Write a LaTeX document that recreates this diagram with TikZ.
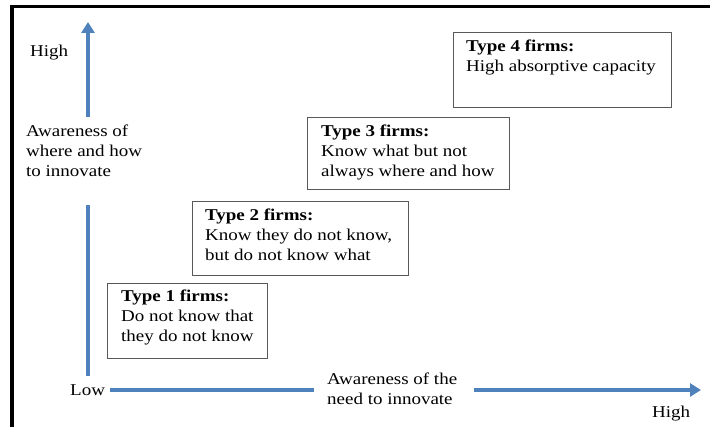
\documentclass[tikz,border=0pt]{standalone}
\usepackage{fontspec}
\setmainfont{Liberation Serif}[FakeStretch=1.15]
\usetikzlibrary{arrows.meta}
\definecolor{axisblue}{HTML}{4F81BD}
\tikzset{
  x=1pt, y=-1pt,
  frameline/.style={line width=3.5pt, black},
  axisline/.style={line width=4pt, axisblue},
  axisarrow/.style={axisline, -{Triangle[width=13pt,length=11pt]}},
  firmbox/.style={draw=black!65, line width=0.9pt, fill=white},
  % multi-line texts are placed by the baseline of their last line
  txt/.style={anchor=base west, inner sep=0pt, align=left,
    font=\fontsize{16.5}{20}\selectfont},
}
\begin{document}
\begin{tikzpicture}
\useasboundingbox (0,0) rectangle (710,427);
% frame on the top and left edges
\coordinate (fTR) at (710,6.5);
\coordinate (fTL) at (10,6.5);
\coordinate (fL0) at (12,5);
\coordinate (fLB) at (12,427);
\draw[frameline] (fTL) -- (fTR);
\draw[frameline] (fL0) -- (fLB);

% firm boxes
\node[firmbox, minimum width=160pt, minimum height=75pt, anchor=north west] (b1) at (107,283) {};
\node[firmbox, minimum width=216pt, minimum height=74pt, anchor=north west] (b2) at (192,201) {};
\node[firmbox, minimum width=202pt, minimum height=72pt, anchor=north west] (b3) at (307,117) {};
\node[firmbox, minimum width=218pt, minimum height=75pt, anchor=north west] (b4) at (453,32) {};

\node[txt] (t1) at (121,342) {\textbf{Type 1 firms:}\\Do not know that\\they do not know};
\node[txt] (t2) at (205,261) {\textbf{Type 2 firms:}\\Know they do not know,\\but do not know what};
\node[txt] (t3) at (321,177) {\textbf{Type 3 firms:}\\Know what but not\\always where and how};
\node[txt] (t4) at (466,72) {\textbf{Type 4 firms:}\\High absorptive capacity};

% vertical axis
\coordinate (vB) at (88,376);
\coordinate (vM1) at (88,205);
\coordinate (vM2) at (88,117);
\coordinate (vT) at (88,22);
\draw[axisline] (vB) -- (vM1);
\draw[axisarrow] (vM2) -- (vT);
\node[txt] (yhigh) at (30,57) {High};
\node[txt] (ylab) at (26,177) {Awareness of\\where and how\\to innovate};

% horizontal axis
\coordinate (hL) at (110,390);
\coordinate (hM1) at (314,390);
\coordinate (hM2) at (474,390);
\coordinate (hR) at (701,390);
\draw[axisline] (hL) -- (hM1);
\draw[axisarrow] (hM2) -- (hR);
\node[txt] (xlow) at (70,396) {Low};
\node[txt] (xlab) at (327,405) {Awareness of the\\need to innovate};
\node[txt] (xhigh) at (652,418) {High};
\end{tikzpicture}
\end{document}
